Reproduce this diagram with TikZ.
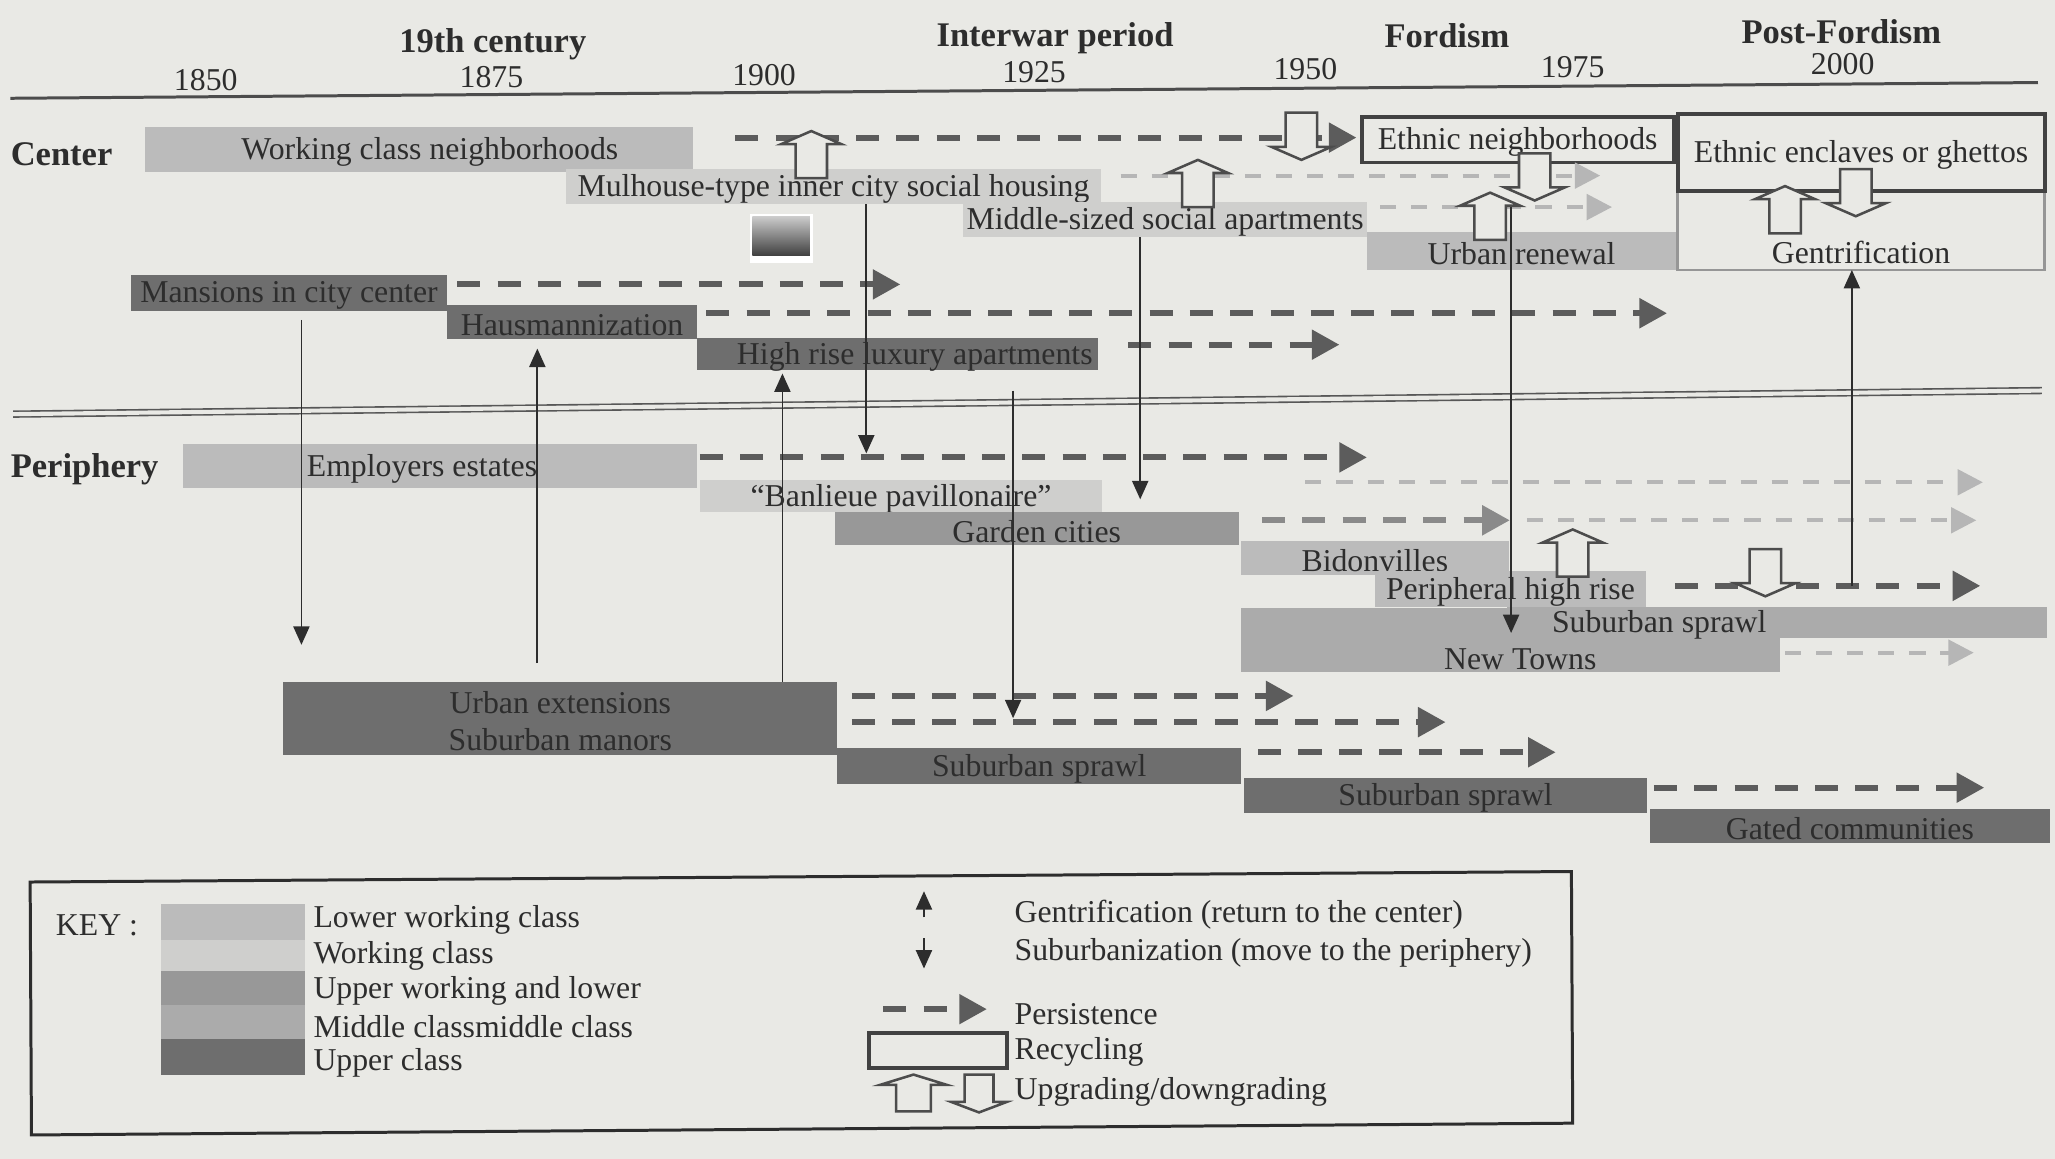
\documentclass[tikz,border=0pt]{standalone}
\usepackage{fontspec}
\setmainfont{Liberation Serif}
\usetikzlibrary{arrows.meta,positioning,fit,calc}

\definecolor{paper}{RGB}{233,233,229}
\definecolor{ink}{RGB}{45,45,45}
\definecolor{lwc}{RGB}{187,187,187}
\definecolor{wc}{RGB}{207,207,205}
\definecolor{uwc}{RGB}{152,152,152}
\definecolor{mc}{RGB}{171,171,171}
\definecolor{uc}{RGB}{110,110,110}
\definecolor{dashdark}{RGB}{92,92,92}
\definecolor{dashmid}{RGB}{138,138,138}
\definecolor{dashfaint}{RGB}{182,182,182}

\begin{document}
\begin{tikzpicture}[x=0.02cm,y=-0.02cm,font=\fontsize{13.8}{16}\selectfont,text=ink,
  every label/.style={text=ink,inner sep=0,yshift=-0.04cm},
  bar/.style={fill=#1,inner sep=0,outer sep=0},
  recbox/.style={draw=ink!90,line width=1.7pt,inner sep=0,outer sep=0},
  period/.style={font=\fontsize{15}{18}\selectfont\bfseries},
  persist/.style={draw=dashdark,line width=2.6pt,dash pattern=on 10pt off 7.5pt,-{Triangle[length=12pt,width=12.5pt]}},
  fadedpersist/.style={draw=dashfaint,line width=1.8pt,dash pattern=on 7pt off 6.5pt,-{Triangle[length=11pt,width=11pt]}},
  mig/.style={draw=ink,line width=0.8pt,-{Triangle[length=8pt,width=7pt]}},
  blockarr/.style={draw=ink!85,fill=paper,line width=1.1pt,line join=miter},
  upgrade/.pic={\draw[blockarr] (-12,0) -- (-12,-26) -- (-23,-26) -- (0,-36) -- (23,-26) -- (12,-26) -- (12,0) -- cycle;},
  downgrade/.pic={\draw[blockarr] (-12,0) -- (-12,26) -- (-23,26) -- (0,36) -- (23,26) -- (12,26) -- (12,0) -- cycle;}]

\fill[paper] (0,0) rectangle (1568,884);
\useasboundingbox (0,0) rectangle (1568,884);

\node[period] (p19) at (376,34) {19th century};
\node[period] (pinter) at (805,29) {Interwar period};
\node[period] (pford) at (1104,27) {Fordism};
\node[period] (ppost) at (1405,24) {Post-Fordism};
\foreach \yr/\xx/\yy in {1850/157/61,1875/375/59,1900/583/57,1925/789/55,1950/996/53,1975/1200/51,2000/1406/49}
  \node (y\yr) at (\xx,\yy) {\yr};

\draw[ink!85,line width=1.3pt] (8,75) -- (1555,63);
\draw[ink!80,line width=0.7pt,double=paper,double distance=1.8pt] (10,316) -- (1558,298);

\node[period,anchor=west] (lblcenter) at (2,118) {Center};
\node[period,anchor=west] (lblperiph) at (2,358) {Periphery};

\node[bar=lwc,fit={(111,97) (529,131)},label={[xshift=0.16cm]center:Working class neighborhoods}] (wcnbhd) {};
\node[bar=wc,fit={(432,129) (840,156)},label=center:Mulhouse-type inner city social housing] (mulhouse) {};
\node[bar=wc,fit={(735,154) (1043,181)},label=center:Middle-sized social apartments] (midsocial) {};
\node[bar=uc,fit={(100,210) (341,237)},label=center:Mansions in city center] (mansions) {};
\node[bar=uc,fit={(341,233) (532,259)},label=center:Hausmannization] (hausmann) {};
\node[bar=uc,fit={(532,258) (838,282)},label={[xshift=0.26cm]center:High rise luxury apartments}] (luxury) {};
\node[bar=lwc,fit={(1043,177) (1279,206)},label=center:Urban renewal] (renewal) {};

\node[recbox,fit={(1039,89) (1277,124)},label=center:Ethnic neighborhoods] (ethnic) {};
\node[draw=ink!50,line width=1.2pt,inner sep=0,outer sep=0,fit={(1280,146) (1560,206)},label={[yshift=-0.3cm]center:Gentrification}] (gentri) {};
\node[recbox,fit={(1280,87) (1560,146)},label=center:Ethnic enclaves or ghettos] (enclaves) {};

\node[fill=white,inner sep=0,outer sep=0,fit={(572,163) (620,201)}] (photo) {};
\shade[top color=black!20,bottom color=black!75] (574,165) rectangle (618,195);

\node[bar=lwc,fit={(140,339) (532,372)},label={[xshift=-0.28cm]center:Employers estates}] (employers) {};
\node[bar=wc,fit={(534,366) (841,391)},label=center:“Banlieue pavillonaire”] (banlieue) {};
\node[bar=uwc,fit={(637,391) (945,416)},label=center:Garden cities] (garden) {};
\node[bar=lwc,fit={(947,413) (1151,439)},label=center:Bidonvilles] (bidon) {};
\node[bar=lwc,fit={(1049,436) (1256,463)},label=center:Peripheral high rise] (perihigh) {};
\node[bar=mc,fit={(947,464) (1358,513)},label={[xshift=0.15cm,yshift=-0.25cm]center:New Towns}] (newtowns) {};
\node[bar=mc,fit={(1150,463) (1562,487)},label={[xshift=-1.8cm]center:Suburban sprawl}] (sprawlmid) {};
\node[bar=uc,fit={(216,520) (639,576)},label={[align=center]center:Urban extensions\\Suburban manors}] (extensions) {};
\node[bar=uc,fit={(639,571) (947,598)},label=center:Suburban sprawl] (sprawlone) {};
\node[bar=uc,fit={(949,594) (1257,620)},label=center:Suburban sprawl] (sprawltwo) {};
\node[bar=uc,fit={(1259,617) (1564,643)},label=center:Gated communities] (gated) {};

\coordinate (pwcn) at (1035,105);
\coordinate (pmul) at (1221,134);
\coordinate (pmid) at (1230,158);
\coordinate (pmans) at (687,217);
\coordinate (phaus) at (1272,239);
\coordinate (plux) at (1022,263);
\coordinate (pempl) at (1043,349);
\coordinate (pban) at (1513,368);
\coordinate (pgard) at (1152,397);
\coordinate (pgardb) at (1508,397);
\coordinate (pperi) at (1511,447);
\coordinate (pnew) at (1506,498);
\coordinate (pexta) at (987,531);
\coordinate (pextb) at (1103,551);
\coordinate (pspone) at (1187,574);
\coordinate (psptwo) at (1514,601);

\draw[persist] ($(wcnbhd.east |- pwcn)+(32,0)$) -- (pwcn);
\draw[fadedpersist] ($(mulhouse.east |- pmul)+(15,0)$) -- (pmul);
\draw[fadedpersist] ($(midsocial.east |- pmid)+(10,0)$) -- (pmid);
\draw[persist] ($(mansions.east |- pmans)+(8,0)$) -- (pmans);
\draw[persist] ($(hausmann.east |- phaus)+(7,0)$) -- (phaus);
\draw[persist] ($(luxury.east |- plux)+(23,0)$) -- (plux);
\draw[persist] ($(employers.east |- pempl)+(2,0)$) -- (pempl);
\draw[fadedpersist] ($(banlieue.east |- pban)+(155,0)$) -- (pban);
\draw[persist,draw=dashmid] ($(garden.east |- pgard)+(18,0)$) -- (pgard);
\draw[fadedpersist] ($(pgard)+(13,0)$) -- (pgardb);
\draw[persist] ($(perihigh.east |- pperi)+(22,0)$) -- (pperi);
\draw[fadedpersist] ($(newtowns.east |- pnew)+(4,0)$) -- (pnew);
\draw[persist] ($(extensions.east |- pexta)+(11,0)$) -- (pexta);
\draw[persist] ($(extensions.east |- pextb)+(11,0)$) -- (pextb);
\draw[persist] ($(sprawlone.east |- pspone)+(13,0)$) -- (pspone);
\draw[persist] ($(sprawltwo.east |- psptwo)+(5,0)$) -- (psptwo);

\coordinate (m1) at (230,492);
\coordinate (m2) at (410,506);
\coordinate (m3) at (597,285);
\coordinate (m4) at (661,346);
\coordinate (m5) at (773,548);
\coordinate (m6) at (870,381);
\coordinate (m7) at (1153,483);
\coordinate (m8) at (1413,447);
\draw[mig] ($(mansions.south -| m1)+(0,7)$) -- (m1);
\draw[mig] (m2) -- ($(hausmann.south -| m2)+(0,7)$);
\draw[mig] (extensions.north -| m3) -- (m3);
\draw[mig] (mulhouse.south -| m4) -- (m4);
\draw[mig] ($(luxury.south -| m5)+(0,16)$) -- (m5);
\draw[mig] (midsocial.south -| m6) -- (m6);
\draw[mig] ($(ethnic.south -| m7)+(0,30)$) -- (m7);
\draw[mig] (m8) -- (gentri.south -| m8);

\pic at (619,136) {upgrade};
\pic at (914,158) {upgrade};
\pic at (993,86) {downgrade};
\pic at (1171,117) {downgrade};
\pic at (1137,183) {upgrade};
\pic at (1362,178) {upgrade};
\pic at (1416,129) {downgrade};
\pic at (1200,440) {upgrade};
\pic at (1347,419) {downgrade};

\draw[ink,line width=1.3pt] (23,673) -- (1199,665) -- (1200,857) -- (24,866) -- cycle;
\node (keytitle) at (74,706) {KEY :};
\foreach \col/\txt/\ya/\yb/\ty [count=\i] in {lwc/Lower working class/690/717/702,wc/Working class/717/741/729,uwc/Upper working and lower/741/767/756,mc/Middle classmiddle class/767/793/783,uc/Upper class/793/820/811}{
  \node[bar=\col,fit={(123,\ya) (233,\yb)}] (sw\i) {};
  \node[anchor=west] (kt\i) at (sw\i.east |- 0,\ty) {\txt};
}
\node[anchor=west] (kgen) at (768,698) {Gentrification (return to the center)};
\node[anchor=west] (ksub) at (768,727) {Suburbanization (move to the periphery)};
\node[anchor=west] (kper) at (768,774) {Persistence};
\node[anchor=west] (krecl) at (768,803) {Recycling};
\node[anchor=west] (kupd) at (768,833) {Upgrading/downgrading};
\draw[mig] ($(kgen.west)+(-63,2)$) -- ++(0,-20);
\draw[mig] ($(ksub.west)+(-63,-11)$) -- ++(0,23);
\draw[persist] ($(kper.west)+(-94,-4)$) -- ++(79,0);
\node[recbox,fit={(663,788) (768,815)}] (krec) {};
\pic[yscale=0.78,xscale=1.1] at (697,848) {upgrade};
\pic[yscale=0.8,xscale=0.92] at (747,820) {downgrade};
\end{tikzpicture}
\end{document}
